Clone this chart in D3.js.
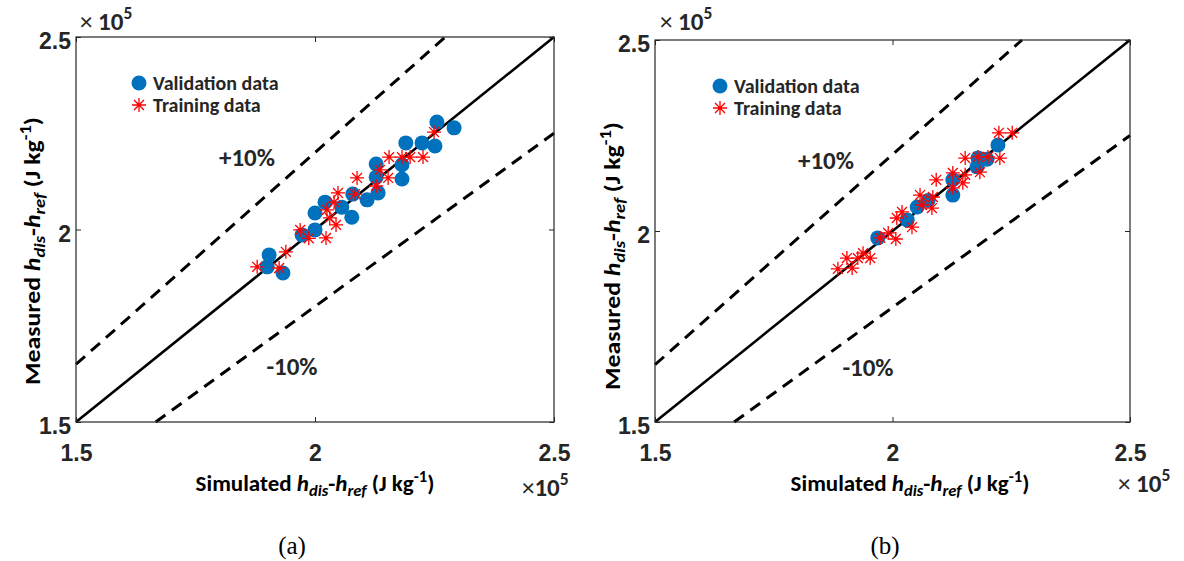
<!DOCTYPE html>
<html>
<head>
<meta charset="utf-8">
<script src="https://cdn.jsdelivr.net/npm/d3@7"></script>
<style>
  body { margin: 0; background: #fff; }
  svg { display: block; font-family: Carlito, Lato, "DejaVu Sans", sans-serif; }
</style>
</head>
<body>
<svg id="fig" width="1184" height="561"></svg>
<script>
// values in J kg^-1 (axis shows them x 10^5)
const tickValues = [150000, 200000, 250000];
const tickLabels = ["1.5", "2", "2.5"];

// panel (a)
const validationA = [
  [225500, 227900], [229100, 226400], [219000, 222500], [222400, 222500], [225100, 221700],
  [212800, 217000], [218200, 216800], [218200, 213100], [212800, 213600], [213200, 209500],
  [210900, 207700], [207900, 209200], [207700, 203200], [205600, 205800], [202100, 207100],
  [200000, 204300], [200000, 199900], [197300, 198600], [190400, 193400], [190000, 190300],
  [193300, 188700]
];
const trainingA = [
  [224900, 225300], [215500, 218800], [218200, 218800], [219900, 218800], [222600, 218800],
  [213600, 215500], [215300, 213400], [208800, 213400], [212800, 211300], [208400, 209200],
  [204800, 209500], [204000, 207100], [202500, 205100], [203100, 203000], [204400, 201200],
  [196900, 199900], [198700, 197700], [202300, 197800], [193900, 194200], [187900, 190300],
  [192500, 190000]
];

// panel (b)
const validationB = [
  [222200, 222500], [218000, 219100], [219900, 218800], [217800, 216800], [212700, 213400],
  [212700, 209400], [207500, 208000], [205200, 206300], [203100, 202900], [196900, 198200]
];
const trainingB = [
  [222400, 225700], [225200, 225700], [222600, 219100], [215300, 219100], [218000, 219400],
  [220100, 219400], [218400, 215400], [215300, 214700], [212700, 215200], [209200, 213400],
  [212700, 211300], [214800, 212600], [205800, 209400], [208500, 208900], [208300, 206000],
  [206200, 206800], [202000, 205000], [200900, 203400], [204100, 201000], [199100, 199500],
  [197400, 198200], [200700, 197900], [193800, 194200], [195300, 192900], [190400, 192900],
  [191500, 190300], [188500, 190100], [192700, 192900]
];

const panels = [
  { left: 76, right: 554, top: 37, bottom: 422, val: validationA, train: trainingA,
    legend: [139, 83], plus: [247, 158], minus: [292, 367], caption: "(a)", capX: 292,
    ylab: [31, 251], xlab: 315, expTop: 80, expBot: [522, 487], expBotSpace: false },
  { left: 655, right: 1130, top: 40, bottom: 422, val: validationB, train: trainingB,
    legend: [720, 86], plus: [826, 161], minus: [868, 368], caption: "(b)", capX: 885,
    ylab: [611, 256], xlab: 910, expTop: 660, expBot: [1118, 483], expBotSpace: true }
];

const svg = d3.select("#fig");
const blue = "#0072BD", red = "#FF0000", ink = "#262626";

function starPath(r) {
  const d = r * Math.SQRT1_2;
  return `M${-r},0L${r},0M0,${-r}L0,${r}M${-d},${-d}L${d},${d}M${-d},${d}L${d},${-d}`;
}

// "h_dis-h_ref (J kg^-1)" with sub/superscripts
function quantity(t, prefix) {
  t.append("tspan").text(prefix);
  t.append("tspan").attr("font-style", "italic").text("h");
  t.append("tspan").attr("font-style", "italic").attr("font-size", "0.72em").attr("dy", 5).text("dis");
  t.append("tspan").attr("dy", -5).text("-");
  t.append("tspan").attr("font-style", "italic").text("h");
  t.append("tspan").attr("font-style", "italic").attr("font-size", "0.72em").attr("dy", 5).text("ref");
  t.append("tspan").attr("dy", -5).text(" (J kg");
  t.append("tspan").attr("font-size", "0.72em").attr("dy", -9).text("-1");
  t.append("tspan").attr("dy", 9).text(")");
}

function exponent(g, x, y, spaced) {
  const t = g.append("text").attr("x", x).attr("y", y).attr("fill", ink)
    .attr("font-size", 25).attr("font-weight", "bold");
  t.append("tspan").attr("font-weight", "normal").text(spaced ? "\u00d7 " : "\u00d7");
  t.append("tspan").text("10");
  t.append("tspan").attr("font-size", "0.7em").attr("dy", -11).text("5");
}

panels.forEach(p => {
  const g = svg.append("g");
  const x = d3.scaleLinear().domain([150000, 250000]).range([p.left, p.right]);
  const y = d3.scaleLinear().domain([150000, 250000]).range([p.bottom, p.top]);

  // reference lines: y = x, y = 1.1x, y = 0.9x
  const line = d3.line().x(d => x(d[0])).y(d => y(d[1]));
  g.append("path").attr("d", line([[150000, 150000], [250000, 250000]]))
    .attr("stroke", "#000").attr("stroke-width", 2.6).attr("fill", "none");
  g.append("path").attr("d", line([[150000, 165000], [250000 / 1.1, 250000]]))
    .attr("stroke", "#000").attr("stroke-width", 3).attr("stroke-dasharray", "12,8").attr("fill", "none");
  g.append("path").attr("d", line([[150000 / 0.9, 150000], [250000, 225000]]))
    .attr("stroke", "#000").attr("stroke-width", 3).attr("stroke-dasharray", "12,8").attr("fill", "none");

  // axes
  const fmt = (d, i) => tickLabels[i];
  const xb = g.append("g").attr("transform", `translate(0,${p.bottom})`)
    .call(d3.axisBottom(x).tickValues(tickValues).tickFormat(fmt).tickSize(-5).tickPadding(23));
  const yl = g.append("g").attr("transform", `translate(${p.left},0)`)
    .call(d3.axisLeft(y).tickValues(tickValues).tickFormat(fmt).tickSize(-5).tickPadding(5));
  g.append("g").attr("transform", `translate(0,${p.top})`)
    .call(d3.axisTop(x).tickValues(tickValues).tickFormat("").tickSize(-5));
  g.append("g").attr("transform", `translate(${p.right},0)`)
    .call(d3.axisRight(y).tickValues(tickValues).tickFormat("").tickSize(-5));
  g.selectAll(".domain").remove();
  g.selectAll(".tick line").attr("stroke", ink);
  [xb, yl].forEach(a => a.selectAll("text").attr("font-size", 23).attr("font-weight", "bold")
    .attr("fill", ink).attr("font-family", null));
  yl.selectAll("text").attr("dy", "0.5em");
  g.append("rect").attr("x", p.left).attr("y", p.top)
    .attr("width", p.right - p.left).attr("height", p.bottom - p.top)
    .attr("fill", "none").attr("stroke", ink).attr("stroke-width", 1.2);

  // data
  g.append("g").selectAll("circle").data(p.val).join("circle")
    .attr("cx", d => x(d[0])).attr("cy", d => y(d[1])).attr("r", 7.5).attr("fill", blue);
  g.append("g").selectAll("path").data(p.train).join("path")
    .attr("transform", d => `translate(${x(d[0])},${y(d[1])})`)
    .attr("d", starPath(7)).attr("stroke", red).attr("stroke-width", 1.3).attr("fill", "none");

  // legend
  const [lx, ly] = p.legend;
  g.append("circle").attr("cx", lx).attr("cy", ly).attr("r", 7.5).attr("fill", blue);
  g.append("path").attr("transform", `translate(${lx},${ly + 22})`).attr("d", starPath(7))
    .attr("stroke", red).attr("stroke-width", 1.3).attr("fill", "none");
  g.append("text").attr("x", lx + 14).attr("y", ly + 7).attr("font-size", 20)
    .attr("font-weight", "bold").attr("fill", ink).text("Validation data");
  g.append("text").attr("x", lx + 14).attr("y", ly + 29).attr("font-size", 20)
    .attr("font-weight", "bold").attr("fill", ink).text("Training data");

  // band labels
  g.append("text").attr("x", p.plus[0]).attr("y", p.plus[1] + 8).attr("text-anchor", "middle")
    .attr("font-size", 25).attr("font-weight", "bold").attr("fill", ink).text("+10%");
  g.append("text").attr("x", p.minus[0]).attr("y", p.minus[1] + 8).attr("text-anchor", "middle")
    .attr("font-size", 25).attr("font-weight", "bold").attr("fill", ink).text("-10%");

  // axis titles
  const xt = g.append("text").attr("x", p.xlab).attr("y", 491).attr("text-anchor", "middle")
    .attr("font-size", 23).attr("font-weight", "bold").attr("fill", "#000");
  quantity(xt, "Simulated ");
  const yt = g.append("text")
    .attr("transform", `translate(${p.ylab[0] + 9},${p.ylab[1]}) scale(1,1.12) rotate(-90)`)
    .attr("text-anchor", "middle").attr("font-size", 23).attr("font-weight", "bold").attr("fill", "#000");
  quantity(yt, "Measured ");

  // exponents
  exponent(g, p.expTop, 30, true);
  exponent(g, p.expBot[0], p.expBot[1] + 9, p.expBotSpace);

  // caption
  g.append("text").attr("x", p.capX).attr("y", 554).attr("text-anchor", "middle")
    .attr("font-family", "'Liberation Serif', 'Times New Roman', serif").attr("font-size", 25)
    .attr("fill", "#000").text(p.caption);
});
</script>
</body>
</html>
